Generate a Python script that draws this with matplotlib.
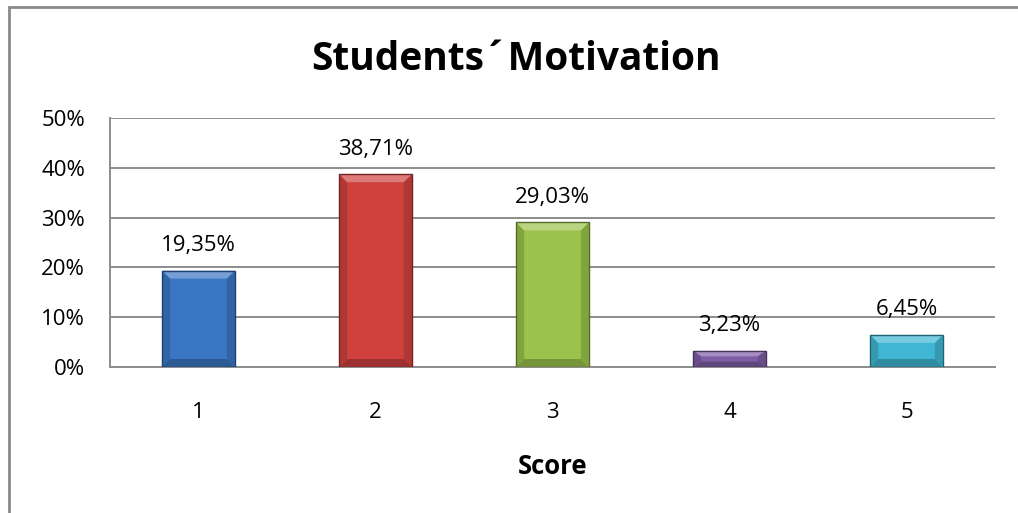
import matplotlib.pyplot as plt
from matplotlib.patches import Polygon, Rectangle
from matplotlib.ticker import FuncFormatter
import matplotlib.colors as mcolors

plt.rcParams['font.family'] = ['Open Sans', 'DejaVu Sans']

scores = ['1', '2', '3', '4', '5']
shares = [19.35, 38.71, 29.03, 3.23, 6.45]
colors = ['#3a76c4', '#d0413e', '#9bc34b', '#7e5da6', '#3fb6d3']

W, H = 1018, 513
fig = plt.figure(figsize=(W / 100, H / 100), dpi=100)
fig.patch.set_facecolor('white')

# chart frame
fig.patches.append(Rectangle((9 / W, -0.1), 1.2, 1 - 7 / H + 0.1, transform=fig.transFigure,
                             fill=False, edgecolor='#8a8a8a', linewidth=2))

ax = fig.add_axes([110 / W, (H - 367) / H, 885 / W, 249 / H])
x = range(len(scores))
bw = 0.41
bars = ax.bar(x, shares, width=bw, color=colors, edgecolor='none', zorder=3)

# bevel edges on each bar
bx = 0.045  # bevel width in category units
by = 1.6    # bevel height in percent
for i, (v, c) in enumerate(zip(shares, colors)):
    l, r = i - bw / 2, i + bw / 2
    rgb = mcolors.to_rgb(c)
    dark = tuple(ch * 0.55 for ch in rgb)
    light = tuple(min(1, ch + (1 - ch) * 0.3) for ch in rgb)
    mid_dark = tuple(ch * 0.84 for ch in rgb)
    low_dark = tuple(ch * 0.76 for ch in rgb)
    bh = min(by, v / 3)
    ax.add_patch(Polygon([(l, 0), (r, 0), (r - bx, bh), (l + bx, bh)],
                         color=low_dark, zorder=4, lw=0))
    ax.add_patch(Polygon([(l, v), (l + bx, v - bh), (l + bx, bh), (l, 0)],
                         color=mid_dark, zorder=4, lw=0))
    ax.add_patch(Polygon([(r, v), (r - bx, v - bh), (r - bx, bh), (r, 0)],
                         color=mid_dark, zorder=4, lw=0))
    ax.add_patch(Polygon([(l, v), (r, v), (r - bx, v - bh), (l + bx, v - bh)],
                         color=light, zorder=4, lw=0))
    ax.add_patch(Rectangle((l, 0), bw, v, fill=False, edgecolor=dark, lw=1, zorder=5))
    ax.annotate(f'{v:.2f}%'.replace('.', ','), (i, v), xytext=(0, 18),
                textcoords='offset points', ha='center', va='center',
                fontsize=16, color='#000000')

ax.set_xlim(-0.5, 4.5)
ax.set_ylim(0, 50)
ax.set_yticks(range(0, 51, 10))
ax.yaxis.set_major_formatter(FuncFormatter(lambda v, p: f'{int(v)}%'))
ax.set_xticks(list(x))
ax.set_xticklabels(scores)
ax.tick_params(axis='both', length=0, labelsize=16, colors='#000000')
ax.tick_params(axis='x', pad=25)
ax.tick_params(axis='y', pad=18)
ax.grid(axis='y', color='#8c8c8c', linewidth=1.4, zorder=0)
for s in ['top', 'right']:
    ax.spines[s].set_visible(False)
ax.spines['left'].set_color('#8c8c8c')
ax.spines['bottom'].set_color('#8c8c8c')
ax.spines['left'].set_linewidth(1.4)
ax.spines['bottom'].set_linewidth(1.4)

ax.set_xlabel('Score', fontsize=18.5, fontweight='bold', labelpad=22)
fig.text(516 / W, 1 - 60 / H, 'Students´Motivation', ha='center', va='center',
         fontsize=28, fontweight='bold')

fig.savefig('out.png', dpi=100)
